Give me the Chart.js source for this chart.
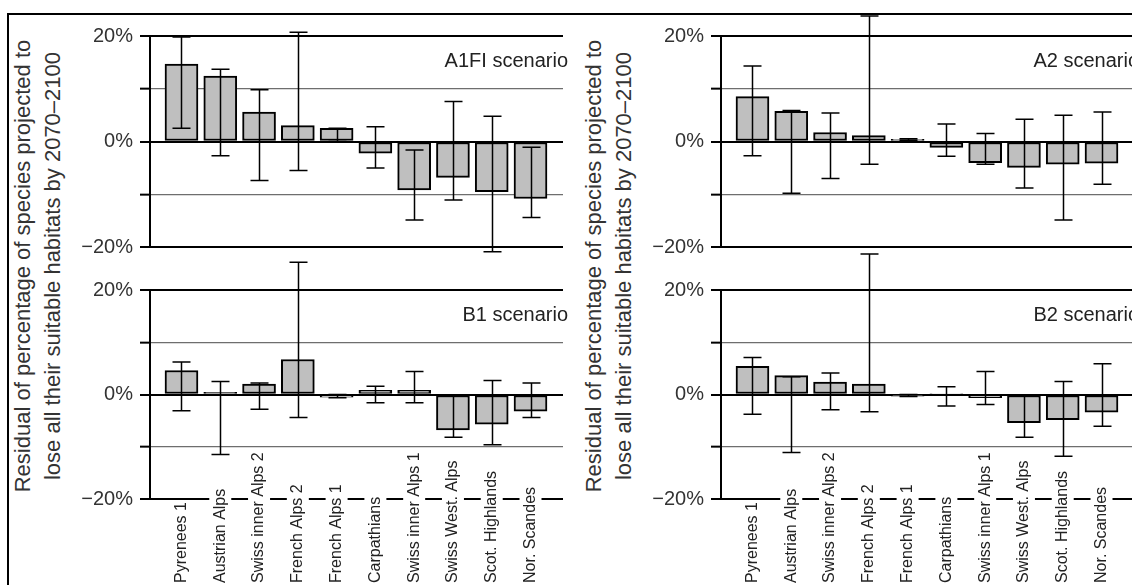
<!DOCTYPE html>
<html><head><meta charset="utf-8">
<script src="https://cdn.jsdelivr.net/npm/chart.js@4.4.1/dist/chart.umd.min.js"></script>
<style>
html,body{margin:0;padding:0;background:#fff;overflow:hidden;width:1132px;height:585px;}
#wrap{position:relative;width:1132px;height:585px;overflow:hidden;font-family:"Liberation Sans",Arial,sans-serif;}
canvas{position:absolute;}
.frame{position:absolute;left:7px;top:13px;width:1200px;height:700px;border-top:2px solid #000;border-left:2px solid #000;}
.ytitle{position:absolute;width:500px;height:60px;line-height:30px;font-size:22px;color:#333;text-align:center;transform:rotate(-90deg);white-space:nowrap;}
</style></head>
<body><div id="wrap">
<div class="frame"></div>
<div class="ytitle" style="left:-212px;top:236px">Residual of percentage of species projected to<br>lose all their suitable habitats by 2070–2100</div>
<div class="ytitle" style="left:359px;top:236px">Residual of percentage of species projected to<br>lose all their suitable habitats by 2070–2100</div>
<canvas id="cA1FI" width="580" height="275" style="left:0;top:0"></canvas>
<canvas id="cA2" width="580" height="275" style="left:571px;top:0"></canvas>
<canvas id="cB1" width="580" height="335" style="left:0;top:250px"></canvas>
<canvas id="cB2" width="580" height="335" style="left:571px;top:250px"></canvas>
</div>
<script>
const categories = ['Pyrenees 1','Austrian Alps','Swiss inner Alps 2','French Alps 2','French Alps 1','Carpathians','Swiss inner Alps 1','Swiss West. Alps','Scot. Highlands','Nor. Scandes'];
const yTicks = [-20,-10,0,10,20];
const yTickLabels = ['\u221220%','','0%','','20%'];

const a1fiValues = [14.7,12.4,5.6,3.0,2.5,-2.2,-9.2,-6.8,-9.5,-10.8];
const a1fiLow    = [2.5,-2.7,-7.4,-5.5,0.0,-5.0,-14.9,-11.1,-20.9,-14.4];
const a1fiHigh   = [19.8,13.7,9.8,20.7,2.5,2.8,-1.6,7.6,4.8,-1.1];

const a2Values = [8.5,5.7,1.7,1.1,0.4,-1.1,-4.0,-4.9,-4.3,-4.1];
const a2Low    = [-2.7,-9.8,-7.0,-4.3,0.2,-2.8,-4.3,-8.8,-14.9,-8.1];
const a2High   = [14.3,5.9,5.4,23.8,0.5,3.3,1.5,4.2,5.0,5.6];

const b1Values = [4.6,0.4,2.0,6.7,-0.5,0.8,0.8,-6.8,-5.7,-3.2];
const b1Low    = [-3.1,-11.5,-2.8,-4.4,-0.6,-1.6,-1.6,-8.2,-9.6,-4.4];
const b1High   = [6.2,2.5,2.2,25.3,0.0,1.6,4.4,-0.3,2.7,2.2];

const b2Values = [5.4,3.6,2.4,2.0,-0.3,0.2,-0.6,-5.4,-4.8,-3.4];
const b2Low    = [-3.8,-11.1,-2.9,-3.3,-0.4,-2.2,-1.9,-8.2,-11.8,-6.1];
const b2High   = [7.1,3.4,4.1,26.9,0.0,1.5,4.4,-0.3,2.5,5.9];

const FONT = '"Liberation Sans", Arial, sans-serif';

function makePanel(id, scenario, values, low, high, showLabels, padTop, padBottom) {
  const errorBars = {
    id: 'errorBars',
    afterDatasetsDraw(chart) {
      const {ctx} = chart; const xs = chart.scales.x, ys = chart.scales.y;
      ctx.save(); ctx.strokeStyle = '#000'; ctx.lineWidth = 1.5;
      low.forEach((lo, i) => {
        const px = Math.round(xs.getPixelForValue(i)) + 0.5;
        const y1 = ys.getPixelForValue(lo), y2 = ys.getPixelForValue(high[i]);
        ctx.beginPath();
        ctx.moveTo(px, y1); ctx.lineTo(px, y2);
        ctx.moveTo(px - 9, y1); ctx.lineTo(px + 9, y1);
        ctx.moveTo(px - 9, y2); ctx.lineTo(px + 9, y2);
        ctx.stroke();
      });
      ctx.restore();
    }
  };
  const texts = {
    id: 'texts',
    afterDraw(chart) {
      const {ctx, chartArea} = chart;
      ctx.save();
      ctx.font = '20px ' + FONT; ctx.fillStyle = '#222';
      ctx.textAlign = 'right'; ctx.textBaseline = 'alphabetic';
      ctx.fillText(scenario, chartArea.right + 5, chartArea.top + 31);
      if (showLabels) {
        const xs = chart.scales.x;
        const base = chartArea.bottom + 84;
        ctx.font = '16px ' + FONT;
        categories.forEach((c, i) => {
          const x = xs.getPixelForValue(i);
          const w = ctx.measureText(c).width;
          ctx.fillStyle = '#fff';
          ctx.fillRect(x - 11, base - w - 2, 22, w + 2);
          ctx.save();
          ctx.translate(x, base); ctx.rotate(-Math.PI / 2);
          ctx.textAlign = 'left'; ctx.textBaseline = 'middle'; ctx.fillStyle = '#222';
          ctx.fillText(c, 0, 0);
          ctx.restore();
        });
      }
      ctx.restore();
    }
  };
  return new Chart(document.getElementById(id), {
    type: 'bar',
    data: {
      datasets: [{
        data: categories.map((c, i) => ({x: i, y: values[i]})),
        backgroundColor: '#bfbfbf', borderColor: '#000', borderWidth: 2,
        borderSkipped: false, barThickness: 33
      }]
    },
    options: {
      responsive: false, animation: false, devicePixelRatio: 1,
      layout: {padding: {left: 0, right: 17, top: padTop, bottom: padBottom}},
      plugins: {legend: {display: false}, tooltip: {enabled: false}},
      scales: {
        x: {type: 'linear', min: -0.812, max: 9.838, offset: false, display: false},
        y: {
          min: -20, max: 20,
          afterFit: s => { s.width = 150; },
          afterBuildTicks: s => { s.ticks = yTicks.map(v => ({value: v})); },
          ticks: {
            autoSkip: false, padding: 7, color: '#333', font: {family: FONT, size: 20},
            callback: (v, idx) => yTickLabels[idx]
          },
          grid: {
            color: c => (c.tick && c.tick.value % 20 === 0) ? '#000' : '#6e6e6e',
            lineWidth: c => (c.tick && c.tick.value % 20 === 0) ? 2 : 1.3,
            tickLength: 10, tickColor: '#000', tickWidth: 2
          },
          border: {display: true, color: '#000', width: 2}
        }
      }
    },
    plugins: [errorBars, texts]
  });
}

makePanel('cA1FI', 'A1FI scenario', a1fiValues, a1fiLow, a1fiHigh, false, 36, 28);
makePanel('cA2', 'A2 scenario', a2Values, a2Low, a2High, false, 36, 28);
makePanel('cB1', 'B1 scenario', b1Values, b1Low, b1High, true, 40, 86);
makePanel('cB2', 'B2 scenario', b2Values, b2Low, b2High, true, 40, 86);
</script>
</body></html>
